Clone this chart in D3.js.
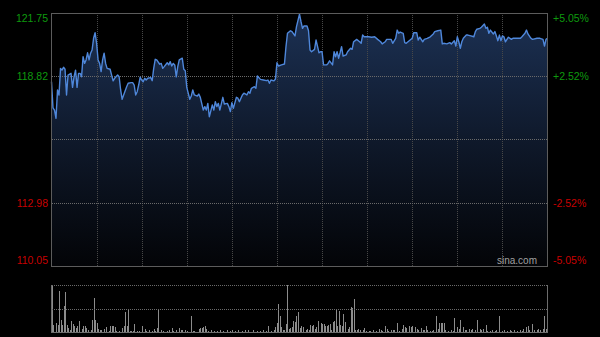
<!DOCTYPE html>
<html>
<head>
<meta charset="utf-8">
<style>
  html, body { margin: 0; padding: 0; background: #000; }
  svg { display: block; font-family: Arial, "Liberation Sans", sans-serif; shape-rendering: crispEdges; }
  .vgrid line { stroke: #484848; stroke-dasharray: 1,1; }
  .hgrid line { stroke: #6a6a6a; stroke-dasharray: 1,1; }
</style>
<script src="https://d3js.org/d3.v7.min.js"></script>
</head>
<body>
<script>
// price axis (left) and percent axis (right)
var priceTicks = [121.75, 118.82, 112.98, 110.05];
var pctTicks = ['+5.05%', '+2.52%', '-2.52%', '-5.05%'];
var prevClose = 115.90;
var priceMin = 110.05, priceMax = 121.75;
var sessionMinutes = 330;
var gridMinutes = [30, 60, 90, 120, 150, 180, 210, 240, 270, 300];

// intraday price, minute of session -> price
var lineMinutes = [0,1,2,3,4,5,6,7,8,9,10,11,13,14,15,16,17,18,19,20,21,22,23,24,25,26,27,28,29,30,
  31,32,33,34,35,36,37,39,40,41,42,44,45,46,47,48,50,51,53,54,55,56,57,58,59,60,61,62,63,64,
  66,67,68,69,70,72,73,74,75,77,78,79,80,81,82,83,84,85,87,88,89,90,92,93,94,95,97,98,99,101,
  102,103,104,105,107,108,109,110,111,112,114,115,117,118,119,120,121,123,124,125,127,128,130,131,132,133,135,136,137,139,
  141,143,144,145,146,148,149,150,151,153,155,156,157,159,160,162,163,165,166,167,168,170,171,172,173,175,176,178,179,180,
  181,183,184,185,187,188,189,190,191,192,193,194,196,197,199,200,201,202,203,205,206,207,208,211,213,215,217,219,220,222,
  223,226,227,229,230,231,232,234,235,236,238,240,241,243,244,245,247,248,250,252,254,255,257,259,260,261,263,265,266,268,
  269,270,271,272,273,274,276,277,279,281,282,283,285,286,288,289,290,291,292,294,295,296,297,298,299,300,301,302,304,306,
  307,310,312,313,315,316,317,319,320,323,325,327,328,329,330];
var linePrices = [118.57,117.36,117.26,116.88,118.19,117.96,119.19,119.11,119.24,119.15,117.96,118.88,118.96,118.31,118.80,119.11,118.31,118.96,118.96,118.80,119.73,119.42,119.58,119.91,119.58,119.89,120.04,120.58,120.84,120.35,
  119.58,119.42,119.04,119.58,119.89,119.42,119.19,119.15,118.88,118.61,118.73,118.88,118.80,118.19,117.76,117.96,118.34,118.50,118.53,118.53,118.42,117.96,118.11,118.42,118.78,118.65,118.57,118.73,118.65,118.73,
  118.76,118.62,119.19,119.61,119.58,119.38,119.42,119.19,119.27,119.45,119.35,119.50,119.30,119.42,119.35,118.80,119.27,119.58,119.66,119.15,119.08,118.31,117.76,117.91,118.19,117.96,117.91,118.00,117.85,117.26,
  117.42,117.26,117.57,116.95,117.50,117.26,117.65,117.42,117.57,117.26,117.85,117.54,117.57,117.42,117.19,117.60,117.34,117.85,117.81,117.65,117.96,118.04,117.96,118.11,118.04,118.27,118.34,118.27,118.84,118.68,
  118.65,118.62,118.65,118.50,118.65,118.61,118.70,119.45,119.30,119.35,119.39,120.19,120.81,120.93,120.89,120.69,121.12,121.70,121.35,121.04,121.15,121.15,120.93,120.04,119.96,120.07,120.50,119.91,119.96,119.96,
  119.35,119.35,119.42,119.54,119.35,119.96,119.73,119.96,119.66,119.91,120.19,119.76,119.81,119.96,120.12,120.07,120.42,120.47,120.53,120.42,120.35,120.73,120.65,120.65,120.63,120.65,120.53,120.42,120.32,120.42,
  120.53,120.53,120.35,120.58,120.96,120.81,120.87,120.81,120.38,120.35,120.47,120.58,120.84,120.84,120.50,120.63,120.42,120.53,120.58,120.65,120.78,120.89,120.93,120.96,120.32,120.35,120.32,120.38,120.32,120.47,
  120.22,120.65,120.42,120.12,120.42,120.58,120.73,120.73,120.69,120.65,120.89,121.00,121.04,121.09,121.24,121.04,121.09,120.81,120.96,120.78,120.89,120.69,120.47,120.73,120.47,120.69,120.65,120.42,120.63,120.53,
  120.58,120.58,120.58,120.65,120.81,120.96,120.78,120.58,120.53,120.58,120.58,120.53,120.22,120.53,120.58];

// volume per minute (thousand shares)
var volMinutes = [0,1,3,4,5,6,7,8,9,10,11,12,13,14,15,16,17,18,20,21,22,23,24,26,27,28,29,30,31,32,
  33,35,36,38,39,40,41,42,43,45,47,48,49,50,51,52,53,54,55,57,58,60,62,63,65,67,68,69,70,71,
  73,74,77,78,80,81,83,85,86,87,89,90,93,94,95,98,99,100,101,102,103,104,106,108,110,112,114,117,119,120,
  122,124,127,129,131,134,137,139,141,143,144,146,148,149,150,151,152,153,154,155,156,157,158,159,160,161,162,163,164,165,
  166,167,169,170,171,172,173,174,175,176,177,179,180,181,182,183,184,185,186,187,188,189,190,191,192,193,194,195,197,198,
  199,200,201,202,203,204,205,207,208,209,211,212,214,216,218,219,220,222,223,224,226,227,228,230,231,233,234,235,236,238,
  239,240,242,243,244,246,247,248,249,250,252,253,254,256,257,258,259,260,261,262,264,266,267,268,270,271,272,274,275,276,
  278,279,280,282,283,285,286,287,289,290,292,293,295,296,298,300,301,303,305,306,308,310,312,313,314,316,317,318,320,321,
  323,324,325,327,328,329];
var volValues = [460,70,95,70,410,120,70,260,400,70,40,23,106,83,63,40,56,106,30,56,63,40,23,16,123,340,116,90,30,16,
  23,30,50,13,56,63,63,50,13,13,40,63,200,63,220,13,10,13,83,13,10,63,30,13,23,13,30,13,36,230,
  16,13,13,23,36,13,23,36,23,16,23,13,160,13,13,30,36,36,50,56,30,13,23,13,10,23,13,16,13,23,
  10,16,13,23,16,23,10,13,16,10,56,13,23,50,90,280,156,50,23,16,83,470,30,40,50,106,96,160,200,40,
  56,50,23,30,16,73,56,73,30,50,106,90,83,83,56,63,73,83,23,96,106,230,56,210,73,56,180,96,30,50,
  250,240,330,23,16,30,23,16,36,10,13,10,16,13,30,23,13,56,30,13,23,16,16,90,13,30,73,50,40,56,
  50,56,50,30,23,40,16,23,63,16,13,10,16,160,30,90,90,90,90,16,13,16,13,140,50,30,123,50,23,16,
  30,23,30,23,123,30,16,30,73,13,10,16,13,16,160,10,16,13,16,13,23,13,23,13,30,50,63,23,83,16,
  23,30,23,30,160,30];

function draw() {
  'use strict';
  var width = 600, height = 337,
      left = 51.5, right = 547.5,
      top = 13, bottom = 266,
      volTop = 285, volBottom = 332;

  var svg = d3.select('body')
              .append('svg')
              .attr('width', width)
              .attr('height', height);

  var x_scale = d3.scaleLinear().domain([0, sessionMinutes]).range([left, right]);
  var y_scale = d3.scaleLinear().domain([priceMin, priceMax]).range([bottom, top]);
  var v_scale = d3.scaleLinear().domain([0, d3.max(volValues)]).range([volBottom, volTop]);

  var points = lineMinutes.map(function(m, i) { return {m: m, p: linePrices[i]}; });
  var vols = volMinutes.map(function(m, i) { return {m: m, v: volValues[i]}; });

  // area fill gradient
  var grad = svg.append('defs').append('linearGradient')
                .attr('id', 'fillGrad')
                .attr('gradientUnits', 'userSpaceOnUse')
                .attr('x1', 0).attr('y1', top)
                .attr('x2', 0).attr('y2', bottom);
  grad.append('stop').attr('offset', 0).attr('stop-color', '#1c3154');
  grad.append('stop').attr('offset', 0.5).attr('stop-color', '#0f192b');
  grad.append('stop').attr('offset', 1).attr('stop-color', '#030407');

  var area = d3.area()
               .x(function(d) { return x_scale(d.m); })
               .y0(bottom)
               .y1(function(d) { return y_scale(d.p); });
  svg.append('path')
     .datum(points)
     .attr('d', area)
     .attr('fill', 'url(#fillGrad)');

  // grid (price panel only)
  svg.append('g')
     .attr('class', 'vgrid')
     .selectAll('line')
     .data(gridMinutes)
     .enter()
     .append('line')
     .attr('x1', function(d) { return Math.round(x_scale(d)) + 0.5; })
     .attr('x2', function(d) { return Math.round(x_scale(d)) + 0.5; })
     .attr('y1', top)
     .attr('y2', bottom);

  svg.append('g')
     .attr('class', 'hgrid')
     .selectAll('line')
     .data([priceTicks[1], prevClose, priceTicks[2]])
     .enter()
     .append('line')
     .attr('x1', left)
     .attr('x2', right)
     .attr('y1', function(d) { return Math.round(y_scale(d)) + 0.5; })
     .attr('y2', function(d) { return Math.round(y_scale(d)) + 0.5; })
     .attr('stroke', function(d) { return d === prevClose ? '#808080' : '#6a6a6a'; })
     .attr('stroke-dasharray', function(d) { return d === prevClose ? '2,1' : '1,1'; });

  // price line
  var line = d3.line()
               .x(function(d) { return x_scale(d.m); })
               .y(function(d) { return y_scale(d.p); });
  svg.append('path')
     .datum(points)
     .attr('d', line)
     .attr('fill', 'none')
     .attr('stroke', '#4f87da')
     .attr('stroke-width', 1.4)
     .attr('stroke-linejoin', 'round')
     .style('shape-rendering', 'auto');

  // frame
  svg.append('rect')
     .attr('x', left).attr('y', top + 0.5)
     .attr('width', right - left).attr('height', bottom - top)
     .attr('fill', 'none')
     .attr('stroke', '#5c5c5c');

  // axis labels
  svg.append('g')
     .selectAll('text')
     .data(priceTicks)
     .enter()
     .append('text')
     .attr('x', 48)
     .attr('y', function(d, i) {
       if (i === 0) return y_scale(d) + 9;
       if (i === priceTicks.length - 1) return y_scale(d) - 2;
       return y_scale(d) + 4;
     })
     .attr('text-anchor', 'end')
     .attr('font-size', '10.5px')
     .attr('fill', function(d) { return d > prevClose ? '#0e9a0e' : '#c80000'; })
     .text(function(d) { return d.toFixed(2); });

  svg.append('g')
     .selectAll('text')
     .data(pctTicks)
     .enter()
     .append('text')
     .attr('x', 553)
     .attr('y', function(d, i) {
       var v = priceTicks[i];
       if (i === 0) return y_scale(v) + 9;
       if (i === pctTicks.length - 1) return y_scale(v) - 2;
       return y_scale(v) + 4;
     })
     .attr('font-size', '10.5px')
     .attr('fill', function(d) { return d.charAt(0) === '+' ? '#0e9a0e' : '#c80000'; })
     .text(function(d) { return d; });

  svg.append('text')
     .attr('x', 537)
     .attr('y', 264)
     .attr('text-anchor', 'end')
     .attr('font-size', '10px')
     .attr('fill', '#a0a0a0')
     .text('sina.com');

  // volume panel
  svg.append('g')
     .selectAll('rect')
     .data(vols)
     .enter()
     .append('rect')
     .attr('x', function(d) { return Math.round(x_scale(d.m)); })
     .attr('y', function(d) { return v_scale(d.v); })
     .attr('width', 1)
     .attr('height', function(d) { return volBottom - v_scale(d.v); })
     .attr('fill', '#8c8c8c');

  svg.append('g')
     .attr('class', 'hgrid')
     .selectAll('line')
     .data([volTop, (volTop + volBottom) / 2])
     .enter()
     .append('line')
     .attr('x1', left)
     .attr('x2', right)
     .attr('y1', function(d) { return Math.round(d) + 0.5; })
     .attr('y2', function(d) { return Math.round(d) + 0.5; })
     .attr('stroke', '#7a7a7a');

  svg.append('path')
     .attr('d', 'M' + left + ',' + volTop + 'V' + (volBottom + 0.5) + 'H' + right + 'V' + volTop)
     .attr('fill', 'none')
     .attr('stroke', '#6c6c6c');
}
draw();
</script>
</body>
</html>
